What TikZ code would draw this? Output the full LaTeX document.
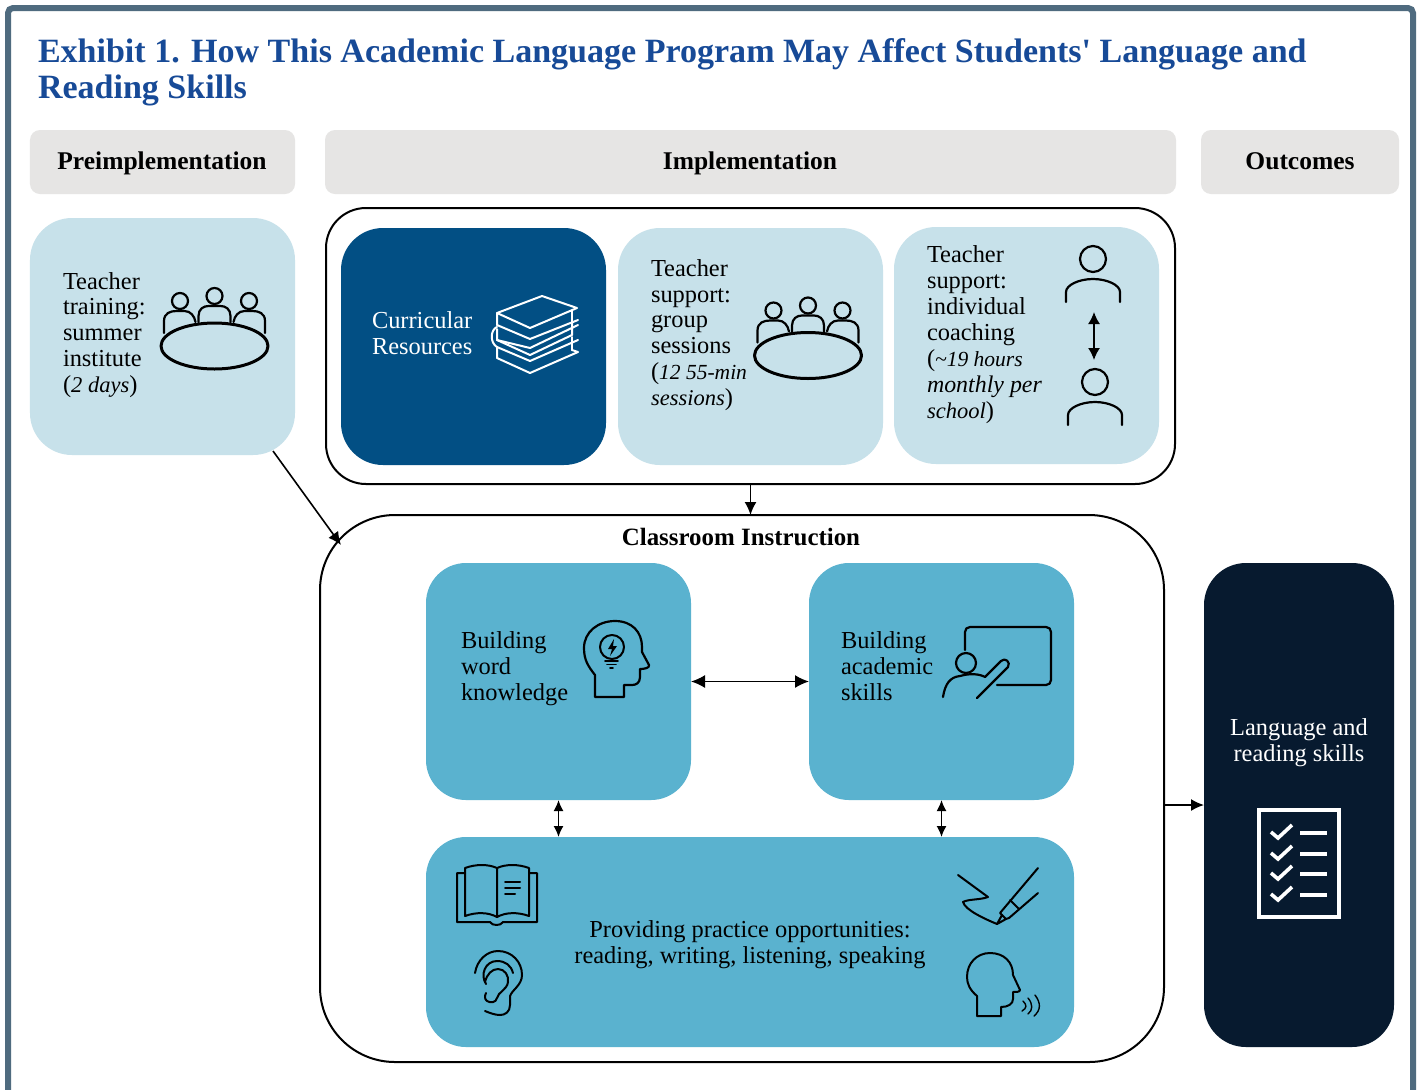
\documentclass[tikz,border=0pt]{standalone}
\usepackage{fontspec}
\setmainfont{Liberation Serif}
\usetikzlibrary{arrows.meta}
\definecolor{framec}{HTML}{4F6B7F}
\definecolor{titlec}{HTML}{174A97}
\definecolor{headc}{HTML}{E6E5E4}
\definecolor{lightc}{HTML}{C7E1EA}
\definecolor{navyc}{HTML}{024F84}
\definecolor{midc}{HTML}{5AB2CF}
\definecolor{darkc}{HTML}{071A2F}
\newcommand{\itx}[1]{{\fontsize{22.6}{26}\selectfont\itshape #1}}
\newcommand{\itn}[1]{{\fontsize{21.6}{26}\selectfont\itshape #1}}
\newcommand{\itw}[1]{{\fontsize{24}{26}\selectfont\itshape #1}}
\tikzset{
  x=1bp,y=-1bp,
  shapebox/.style={rectangle,inner sep=0pt,outer sep=0pt},
  headbox/.style={shapebox,fill=headc,rounded corners=10bp,minimum height=64bp},
  lightpanel/.style={shapebox,fill=lightc,rounded corners=42bp,minimum width=265bp,minimum height=237bp},
  navypanel/.style={shapebox,fill=navyc,rounded corners=42bp,minimum width=265bp,minimum height=237bp},
  midpanel/.style={shapebox,fill=midc,rounded corners=40bp,minimum height=237bp,minimum width=265bp},
  outline/.style={shapebox,draw=black,line width=2bp,fill=white},
  bodytext/.style={inner sep=0pt,outer sep=0pt,align=left,anchor=west,text=black,font=\fontsize{24.5}{26}\selectfont},
  headtext/.style={inner sep=0pt,outer sep=0pt,anchor=base,font=\bfseries\fontsize{25.6}{26}\selectfont},
  icon/.style={line width=2.2bp,line cap=round,line join=round},
  conn/.style={line width=1.6bp,-{Latex[length=13bp,width=12bp]}},
  twoway/.style={line width=1.6bp,{Latex[length=11bp,width=10bp]}-{Latex[length=11bp,width=10bp]}},
  twowaybig/.style={line width=1.6bp,{Latex[length=14bp,width=13bp]}-{Latex[length=14bp,width=13bp]}},
  pics/meeting/.style={code={
    \draw[icon,line width=3bp] (0,0) ellipse [x radius=53.5bp,y radius=23bp];
    \draw[icon] (-34.5,-45) circle [radius=8bp] (0,-50) circle [radius=8bp] (34.5,-45) circle [radius=8bp];
    \draw[icon] (-50.5,-13) -- (-50.5,-25) .. controls (-50.5,-33) and (-44,-35) .. (-38,-35) -- (-30,-35) .. controls (-24,-35) and (-20,-30) .. (-19,-24);
    \draw[icon] (-16,-24) -- (-16,-30) .. controls (-16,-37) and (-11,-40) .. (-6,-40) -- (6,-40) .. controls (11,-40) and (16,-37) .. (16,-30) -- (16,-24);
    \draw[icon] (19,-24) .. controls (20,-30) and (24,-35) .. (30,-35) -- (38,-35) .. controls (44,-35) and (50.5,-33) .. (50.5,-25) -- (50.5,-13);
  }},
  pics/person/.style={code={
    \draw[icon] (0,0) circle [radius=13bp];
    \draw[icon] (-27,43) -- (-27,33) .. controls (-27,26) and (-14,20) .. (0,20) .. controls (14,20) and (27,26) .. (27,33) -- (27,43);
  }},
  pics/checkrow/.style={code={
    \draw[white,line width=3.6bp,line join=miter] (0,-1) -- (7,5) -- (21,-8);
    \draw[white,line width=4bp] (29,0) -- (56,0);
  }}
}
\begin{document}
\begin{tikzpicture}
\useasboundingbox (0,0) rectangle (1421,1089);
\clip (0,0) rectangle (1421,1089);
\fill[white] (0,0) rectangle (1421,1089);
% frame
\draw[framec,line width=6bp,rounded corners=5bp] (8,1100) -- (8,8) -- (1413,8) -- (1413,1100);
% title
\node[inner sep=0pt,outer sep=0pt,anchor=west,align=left,text=titlec,font=\bfseries\fontsize{34.15}{36}\selectfont] (title) at (38,72) {Exhibit 1. How This Academic Language Program May Affect Students\textquotesingle{} Language and\\Reading Skills};
% headers
\node[headbox,minimum width=265bp] (hpre) at (162.5,162) {};
\node[headbox,minimum width=851bp] (himp) at (750.5,162) {};
\node[headbox,minimum width=198bp] (hout) at (1300,162) {};
\node[headtext] (tpre) at (162,169) {Preimplementation};
\node[headtext] (timp) at (750,169) {Implementation};
\node[headtext] (tout) at (1300,169) {Outcomes};
% panels
\node[lightpanel] (tt) at (162.5,336.5) {};
\node[outline,rounded corners=40bp,minimum width=849bp,minimum height=276bp] (impl) at (750.5,346) {};
\node[navypanel] (cur) at (473.5,346.5) {};
\node[lightpanel] (grp) at (750.5,346.5) {};
\node[lightpanel] (ind) at (1026.5,345.5) {};
\node[outline,rounded corners=75bp,minimum width=844bp,minimum height=547bp] (ci) at (742,788.5) {};
\node[midpanel] (word) at (558.5,681.5) {};
\node[midpanel] (acad) at (941.5,681.5) {};
\node[midpanel,minimum width=648bp,minimum height=210bp] (prac) at (750,942) {};
\node[shapebox,fill=darkc,rounded corners=42bp,minimum width=190bp,minimum height=484bp] (out) at (1299,805) {};
% text
\node[bodytext] (ttt) at (63,335) {Teacher\\training:\\summer\\institute\\(\itx{2 days})};
\node[bodytext,text=white] (curt) at (372,333) {Curricular\\Resources};
\node[bodytext] (grpt) at (651,335) {Teacher\\support:\\group\\sessions\\(\itn{12 55-min}\\\itx{sessions})};
\node[bodytext] (indt) at (927,334.5) {Teacher\\support:\\individual\\coaching\\(\itn{\textasciitilde19 hours}\\\itw{monthly per}\\\itx{school})};
\node[headtext,font=\bfseries\fontsize{25}{26}\selectfont] (cit) at (741,545) {Classroom Instruction};
\node[bodytext] (wordt) at (461,669) {Building\\word\\knowledge};
\node[bodytext] (acadt) at (841,666) {Building\\academic\\skills};
\node[bodytext,anchor=center,align=center] (pract) at (750,945) {Providing practice opportunities:\\reading, writing, listening, speaking};
\node[bodytext,anchor=center,align=center,text=white] (outt) at (1299,743) {Language and\\reading skills};
% connectors
\draw[conn] ([xshift=-22bp,yshift=4bp]tt.south east) -- ([xshift=21bp,yshift=-30bp]ci.north west);
\draw[conn] (impl.south) -- (impl.south |- ci.north);
\draw[twowaybig] (word.east) -- (acad.west);
\draw[twoway] (word.south) -- (word.south |- prac.north);
\draw[twoway] (acad.south) -- (acad.south |- prac.north);
\draw[conn] (ci.east |- out.west) -- (out.west);
% meeting icons
\pic (m1) at (214.5,346) {meeting};
\pic (m2) at (808,355.5) {meeting};
% books
\begin{scope}[white,line width=2bp,line join=round,line cap=round]
\draw (542,296) -- (577,308) -- (530,328) -- (497,313) -- cycle;
\draw (497,313) -- (497,325) -- (530,339) -- (578,320);
\draw (572,310) -- (572,323);
\draw (497,327) .. controls (490,330) and (490,343) .. (497,347);
\draw (497,329) -- (497,340) -- (530,355) -- (572,335) -- (572,323);
\draw (497,340) -- (530,348) -- (578,325);
\draw (578,340) -- (530,361) -- (497,347);
\draw (572,337) -- (572,350) ;
\draw (497,347) -- (497,358) -- (530,373) -- (578,352) -- (572,350);
\end{scope}
% persons
\pic (p1) at (1093,259) {person};
\pic (p2) at (1095,382) {person};
\coordinate (pa) at (1094,312);
\coordinate (pb) at (1094,360);
\draw[line width=1.6bp,{Latex[length=12bp,width=12bp]}-{Latex[length=12bp,width=12bp]}] (pa) -- (pb);
% head with bulb
\draw[icon,line width=2.2bp] (595,697) -- (595,675) .. controls (588,666) and (584,660) .. (584,648) .. controls (584,632) and (598,621) .. (615,621) .. controls (632,621) and (642,632) .. (642,647) -- (642,652) -- (649,665) .. controls (650,668) and (644,669) .. (640,669) -- (640,677) .. controls (640,683) and (636,685) .. (632,685) -- (624,685) -- (624,697) -- cycle;
\draw[icon,line width=2bp] (612,647) circle [radius=12bp];
\fill (614,639) -- (608,649) -- (612,649) -- (610,656) -- (617,646) -- (613,646) -- cycle;
\draw[icon,line width=1.6bp] (605,661) -- (618,661) (607,664.5) -- (616,664.5) (610,668) -- (613,668);
% teacher at board
\draw[icon] (965,650) -- (965,632) .. controls (965,629) and (967,627) .. (970,627) -- (1046,627) .. controls (1049,627) and (1051,629) .. (1051,632) -- (1051,680) .. controls (1051,683) and (1049,685) .. (1046,685) -- (997,685);
\draw[icon] (966,663) circle [radius=10bp];
\draw[icon] (943,697) .. controls (945,684) and (950,677) .. (960,676) .. controls (970,673) and (980,674) .. (985,677) -- (1001,661) .. controls (1005,657) and (1011,662) .. (1008,667) -- (977,698);
% open book
\begin{scope}[icon,line width=2bp]
\draw (465,873) -- (457,873) -- (457,922) -- (490,922) .. controls (492,926) and (501,926) .. (503,922) -- (537,922) -- (537,873) -- (529,873);
\draw (497,868) .. controls (488,864) and (476,864) .. (465,868) -- (465,916) .. controls (476,912) and (488,912) .. (497,917) .. controls (506,912) and (518,912) .. (529,916) -- (529,868) .. controls (518,864) and (506,864) .. (497,868) -- (497,917);
\draw (505,882) -- (520,882) (505,888) -- (520,888) (505,894) -- (515,894);
\end{scope}
% ear
\begin{scope}[icon,line width=2bp]
\draw (475,973) .. controls (477,960) and (487,951) .. (498,951) .. controls (512,951) and (522,962) .. (522,975) .. controls (522,985) and (512,990) .. (510,996) -- (510,1005) .. controls (510,1012) and (505,1015) .. (500,1015) .. controls (495,1015) and (490,1013) .. (485,1011);
\draw (486,984) .. controls (480,975) and (485,961) .. (497,961) .. controls (505,961) and (511,965) .. (513,973);
\draw (485,982) .. controls (487,974) and (492,969) .. (498,969) .. controls (505,969) and (509,976) .. (508,982) .. controls (507,990) and (498,992) .. (497,998) .. controls (496,1003) and (490,1003) .. (487,1001) .. controls (484,999) and (485,995) .. (486,993);
\end{scope}
% pen
\begin{scope}[icon,line width=2bp]
\draw (958,875) -- (988,897) .. controls (980,900) and (968,899) .. (963,902) .. controls (965,910) and (985,919) .. (997,924);
\draw (997,924) -- (1002,915) -- (1006,919) -- cycle;
\draw (1002,915) -- (1000,913) -- (1038,868);
\draw (1006,919) -- (1009,918) -- (1038,893);
\draw (1010,900) -- (1019,909);
\end{scope}
% speaking head
\begin{scope}[icon,line width=2bp]
\draw (977,1016) -- (977,996) .. controls (970,990) and (967,984) .. (967,977) .. controls (967,963) and (977,953) .. (990,953) .. controls (1004,953) and (1013,962) .. (1013,975) -- (1020,990) .. controls (1020,992) and (1016,992) .. (1013,992) -- (1013,999) .. controls (1013,1004) and (1008,1007) .. (1001,1007) -- (1001,1016) -- cycle;
\end{scope}
\begin{scope}[line width=1.4bp,line cap=round]
\draw (1023,1001) .. controls (1027,1005) and (1027,1008) .. (1022,1011);
\draw (1028,998) .. controls (1033,1004) and (1033,1010) .. (1028,1014);
\draw (1035,995) .. controls (1041,1003) and (1041,1010) .. (1034,1016);
\end{scope}
% checklist
\draw[white,line width=4bp] (1259,810) rectangle (1339,917);
\pic (c1) at (1271,833) {checkrow};
\pic (c2) at (1271,854) {checkrow};
\pic (c3) at (1271,874) {checkrow};
\pic (c4) at (1271,895) {checkrow};
\end{tikzpicture}
\end{document}
